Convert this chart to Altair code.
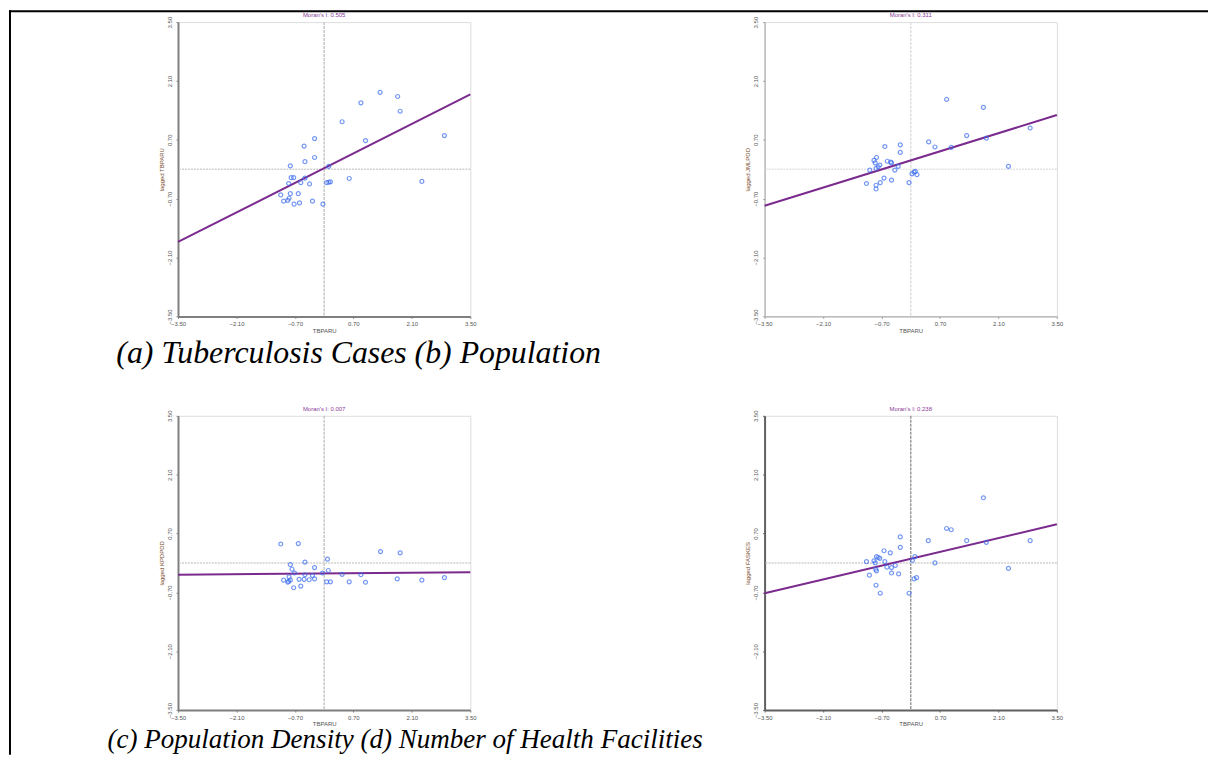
import altair as alt
import pandas as pd

TICKS = [-3.5, -2.1, -0.7, 0.7, 2.1, 3.5]
LINE_X = [-3.5, 3.5]

# (a) Tuberculosis cases
a_x = [1.34, 1.76, 0.88, 1.82, 0.43, -0.23, 2.88, 0.99, -0.48, -0.23, -0.46, -0.81, 0.11, -0.79, -0.73, -0.46, -0.56,
       -0.85, -0.35, 0.06, 0.11, 0.15, 0.60, 2.34, -1.04, -0.81, -0.62, -0.84, -0.87, -0.97, -0.72, -0.59, -0.28, -0.03]
a_y = [1.83, 1.73, 1.58, 1.38, 1.13, 0.73, 0.80, 0.68, 0.55, 0.28, 0.18, 0.08, 0.07, -0.20, -0.20, -0.21, -0.32,
       -0.34, -0.35, -0.32, -0.31, -0.30, -0.22, -0.29, -0.61, -0.58, -0.58, -0.69, -0.74, -0.76, -0.83, -0.80, -0.76, -0.83]
a_line = [-1.73, 1.78]

# (b) Population
b_x = [0.86, 1.74, 2.86, 1.34, 1.81, 0.43, 0.58, 0.97, -0.25, -0.62, -0.25, -0.82, -0.88, -0.85, -0.56, -0.48, -0.46,
       -0.74, -0.78, -0.83, -0.98, -0.30, -0.38, 0.11, 0.08, 0.03, 0.15, 2.34, -0.64, -0.73, -0.46, -1.06, -0.83, -0.83, -0.04]
b_y = [1.66, 1.47, 0.98, 0.80, 0.74, 0.65, 0.53, 0.52, 0.58, 0.54, 0.40, 0.28, 0.21, 0.15, 0.19, 0.17, 0.15,
       0.10, 0.06, 0.02, -0.02, 0.07, -0.02, -0.05, -0.07, -0.11, -0.13, 0.07, -0.21, -0.32, -0.26, -0.34, -0.38, -0.47, -0.32]
b_line = [-0.87, 1.29]

# (c) Population density
c_x = [-1.04, -0.62, 1.35, 1.82, 0.08, -0.46, -0.81, -0.23, -0.77, 0.10, -0.71, -0.04, -0.46, -0.28, 0.43, 0.88, -0.84,
       -0.23, -0.60, -0.48, -0.36, 1.75, -0.97, -0.81, -0.85, -0.87, 2.34, 2.88, 0.06, 0.15, 0.60, 0.99, -0.56, -0.73]
c_y = [0.45, 0.46, 0.27, 0.24, 0.09, 0.02, -0.04, -0.11, -0.15, -0.18, -0.24, -0.24, -0.28, -0.30, -0.27, -0.28, -0.33,
       -0.38, -0.39, -0.39, -0.40, -0.38, -0.41, -0.41, -0.44, -0.46, -0.41, -0.35, -0.45, -0.45, -0.45, -0.46, -0.55, -0.59]
c_line = [-0.28, -0.22]

# (d) Number of health facilities
d_x = [1.74, 0.86, 0.97, -0.25, 0.42, 1.34, 2.86, 1.81, -0.25, -0.64, -0.49, -0.82, -0.78, -0.74, 0.10, 0.04, -1.06,
       -0.88, -0.85, -0.62, 0.58, -0.37, -0.57, -0.46, -0.84, -0.82, -0.46, -0.29, -0.99, 2.34, 0.14, 0.08, -0.83, -0.73, -0.04]
d_y = [1.55, 0.82, 0.79, 0.62, 0.53, 0.53, 0.53, 0.49, 0.37, 0.29, 0.24, 0.15, 0.13, 0.11, 0.15, 0.06, 0.03,
       0.05, 0.00, 0.03, 0.00, -0.06, -0.10, -0.11, -0.15, -0.19, -0.24, -0.26, -0.29, -0.13, -0.35, -0.38, -0.53, -0.72, -0.72]
d_line = [-0.72, 0.92]

titles = ["Moran's I: 0.505", "Moran's I: 0.311", "Moran's I: 0.007", "Moran's I: 0.238"]
y_titles = ["lagged TBPARU", "lagged JMLPDD", "lagged KPDPDD", "lagged FASKES"]
x_title = "TBPARU"
captions = ["(a) Tuberculosis Cases (b) Population",
            "(c) Population Density (d) Number of Health Facilities"]

W, H = 294, 296
FONT = "Liberation Sans"


def panel(xs, ys, ly, title, ytitle, dom_color, dom_width, vcolor, hcolor, extra):
    pts = pd.DataFrame({"x": xs, "y": ys})
    ln = pd.DataFrame({"x": LINE_X, "y": ly})
    xs_ = alt.Scale(domain=[-3.5, 3.5], nice=False, zero=False)
    ys_ = alt.Scale(domain=[-3.5, 3.5], nice=False, zero=False)
    xaxis = alt.Axis(values=TICKS, format=".2f", title=x_title, grid=False,
                     domainColor=dom_color, domainWidth=dom_width, tickSize=2,
                     tickColor=dom_color, labelFontSize=6, titleFontSize=6,
                     labelColor="#555555", titleColor="#555555", labelPadding=2,
                     titlePadding=1, labelFont=FONT, titleFont=FONT,
                     titleFontWeight="normal", labelFlush=False)
    yaxis = alt.Axis(values=TICKS, format=".2f", title=ytitle, grid=False,
                     domainColor=dom_color, domainWidth=dom_width, tickSize=2,
                     tickColor=dom_color, labelFontSize=6, titleFontSize=6,
                     labelColor="#555555", titleColor="#7a4a2a", labelPadding=4,
                     titlePadding=2, labelFont=FONT, titleFont=FONT,
                     titleFontWeight="normal", labelAngle=-90, labelAlign="center",
                     labelBaseline="bottom", labelFlush=False)
    X = alt.X("x:Q", scale=xs_, axis=xaxis)
    Y = alt.Y("y:Q", scale=ys_, axis=yaxis)
    vrule = alt.Chart(pd.DataFrame({"x": [0.0]})).mark_rule(
        color=vcolor, strokeWidth=1.5, strokeDash=[3, 1]).encode(x=X)
    hrule = alt.Chart(pd.DataFrame({"y": [0.0]})).mark_rule(
        color=hcolor, strokeWidth=1.5, strokeDash=[2, 1]).encode(y=Y)
    line = alt.Chart(ln).mark_line(color="#7b2a8e", strokeWidth=2).encode(x=X, y=Y)
    points = alt.Chart(pts).mark_point(shape="circle", size=16, filled=False,
                                       color="#3a6cf0", strokeWidth=1.2).encode(x=X, y=Y)
    ttl = alt.Chart(pd.DataFrame({"t": [title]})).mark_text(
        align="center", baseline="middle", font=FONT, fontSize=6,
        color="#8b3a96").encode(x=alt.value(W / 2), y=alt.value(-7), text="t:N")
    layers = [vrule, hrule, line, points, ttl] + extra
    return alt.layer(*layers).properties(width=W, height=H)


one = pd.DataFrame({"k": [0]})
left_border = alt.Chart(one).mark_rect(color="black", strokeWidth=0).encode(
    x=alt.value(-170), x2=alt.value(-168), y=alt.value(-12), y2=alt.value(737))
top_border = alt.Chart(one).mark_rect(color="black", strokeWidth=0).encode(
    x=alt.value(-170), x2=alt.value(1036), y=alt.value(-12), y2=alt.value(-10))


def caption(text, x, y, size):
    return alt.Chart(pd.DataFrame({"t": [text]})).mark_text(
        align="left", baseline="alphabetic", font="Liberation Serif",
        fontStyle="italic", fontSize=size, color="black").encode(
        x=alt.value(x), y=alt.value(y), text="t:N")


A = panel(a_x, a_y, a_line, titles[0], y_titles[0], "#7f7f7f", 2, "#c8c8c8", "#d0d0d0",
          [left_border, top_border, caption(captions[0], -62, 343, 32)])
B = panel(b_x, b_y, b_line, titles[1], y_titles[1], "#a0a0a0", 1, "#dddddd", "#e2e2e2", [])
C = panel(c_x, c_y, c_line, titles[2], y_titles[2], "#7f7f7f", 2, "#c8c8c8", "#d0d0d0",
          [caption(captions[1], -71, 334, 27.2)])
D = panel(d_x, d_y, d_line, titles[3], y_titles[3], "#606060", 2, "#9a9a9a", "#d0d0d0", [])

chart = alt.concat(A, B, C, D, columns=2, spacing={"row": 100, "column": 296},
                   bounds="flush").properties(
    autosize=alt.AutoSizeParams(type="none"),
    padding={"left": 171, "top": 12, "right": 1036, "bottom": 737}
).configure_view(stroke="transparent").configure(background="white")

chart.save("out.html", embed_options={"renderer": "svg", "actions": False})
